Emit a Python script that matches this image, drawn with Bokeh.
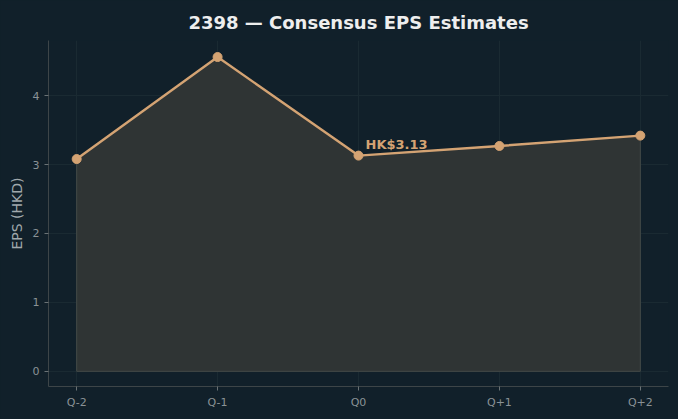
from bokeh.plotting import figure
from bokeh.models import ColumnDataSource, FixedTicker, Range1d, Label
from bokeh.embed import file_html
from bokeh.resources import INLINE

periods = ["Q-2", "Q-1", "Q0", "Q+1", "Q+2"]
eps = [3.08, 4.56, 3.13, 3.27, 3.42]
annotation_text = "HK$3.13"
annotation_index = 2

xs = list(range(len(periods)))
src = ColumnDataSource(dict(x=xs, y=eps))

BG = "#11202a"
LINE = "#d4a373"

p = figure(width=678, height=419, output_backend="svg", toolbar_location=None,
           x_range=Range1d(-0.2, 4.2), y_range=Range1d(-0.22, 4.8),
           min_border_left=48, min_border_right=10, min_border_bottom=33, min_border_top=40)
p.background_fill_color = BG
p.border_fill_color = BG
p.outline_line_color = None
p.styles = {"background-color": BG}

p.title.text = "2398 — Consensus EPS Estimates"
p.title.align = "center"
p.title.text_color = "#eeeeee"
p.title.text_font = "DejaVu Sans"
p.title.text_font_size = "18px"
p.title.text_font_style = "bold"
p.title.standoff = 16

# area
p.varea(x="x", y1=0, y2="y", source=src, fill_color="#2f3434", fill_alpha=1)
p.line(x=[xs[0]] + xs + [xs[-1], xs[0]], y=[0] + eps + [0, 0], line_color="#444a48", line_width=1)
p.line(x="x", y="y", source=src, line_color=LINE, line_width=2.4)
p.scatter(x="x", y="y", source=src, size=9, fill_color=LINE, line_color=LINE)

p.add_layout(Label(x=xs[annotation_index], y=eps[annotation_index], text=annotation_text,
                   x_offset=7, y_offset=4, text_color=LINE, text_font_style="bold",
                   text_font_size="13px", text_font="DejaVu Sans"))

p.xaxis.ticker = FixedTicker(ticks=xs)
p.xaxis.major_label_overrides = {i: s for i, s in enumerate(periods)}
p.yaxis.ticker = FixedTicker(ticks=[0, 1, 2, 3, 4])

for ax in (p.xaxis, p.yaxis):
    ax.axis_line_color = "#3d4548"
    ax.major_tick_line_color = "#6a7275"
    ax.minor_tick_line_color = None
    ax.major_tick_out = 4
    ax.major_tick_in = 0
    ax.major_label_text_color = "#8a9296"
    ax.major_label_text_font = "DejaVu Sans"
    ax.major_label_text_font_size = "11px"

p.yaxis.axis_label = "EPS (HKD)"
p.yaxis.axis_label_text_color = "#a0a8ac"
p.yaxis.axis_label_text_font = "DejaVu Sans"
p.yaxis.axis_label_text_font_size = "14px"
p.yaxis.axis_label_text_font_style = "normal"

p.grid.grid_line_color = "#1a2a32"
p.grid.grid_line_alpha = 1

open("out.html", "w").write(file_html(p, INLINE))
